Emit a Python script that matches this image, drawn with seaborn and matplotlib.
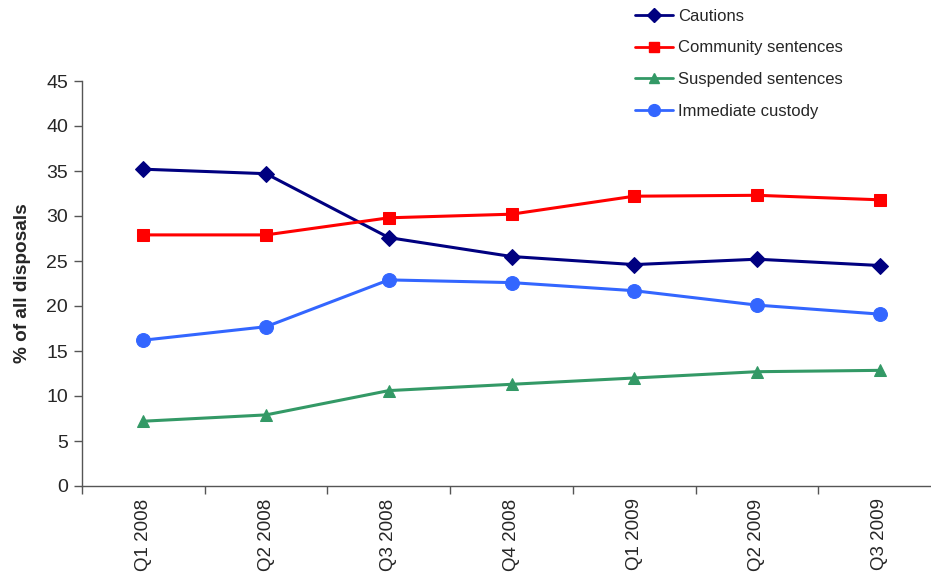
import matplotlib
matplotlib.use("Agg")
import matplotlib.pyplot as plt
import seaborn as sns
import pandas as pd
from matplotlib.lines import Line2D

quarters = ["Q1 2008", "Q2 2008", "Q3 2008", "Q4 2008", "Q1 2009", "Q2 2009", "Q3 2009"]
cautions = [35.2, 34.7, 27.6, 25.5, 24.6, 25.2, 24.5]
community = [27.9, 27.9, 29.8, 30.2, 32.2, 32.3, 31.8]
suspended = [7.2, 7.9, 10.6, 11.3, 12.0, 12.7, 12.85]
custody = [16.2, 17.7, 22.9, 22.6, 21.7, 20.1, 19.1]

series_names = ["Cautions", "Community sentences", "Suspended sentences", "Immediate custody"]
series_values = [cautions, community, suspended, custody]
colors = ["#000080", "#FF0000", "#339966", "#3366FF"]
markers = ["D", "s", "^", "o"]
msizes = [8, 8, 9, 10]

rows = []
for name, vals in zip(series_names, series_values):
    for i, (q, v) in enumerate(zip(quarters, vals)):
        rows.append({"quarter": q, "pos": i, "series": name, "value": v})
df = pd.DataFrame(rows)

sns.set_style("white")
plt.rcParams["font.family"] = ["Liberation Sans", "DejaVu Sans"]

fig = plt.figure(figsize=(9.31, 5.74), dpi=100)
ax = fig.add_axes([82 / 931, 1 - 486 / 574, (941 - 82) / 931, (486 - 81) / 574])

for name, col, mk, ms in zip(series_names, colors, markers, msizes):
    sub = df[df["series"] == name]
    sns.lineplot(data=sub, x="pos", y="value", color=col, marker=mk,
                 markersize=ms, markeredgecolor=col, linewidth=2.2,
                 ax=ax, legend=False)

ax.set_xlim(-0.5, 6.5)
ax.set_ylim(0, 45)
ax.set_yticks(range(0, 46, 5))
ax.set_xticks(range(len(quarters)))
ax.set_xticklabels(quarters, rotation=90, fontsize=13.5)
ax.set_xticks([i + 0.5 for i in range(-1, 7)], minor=True)
ax.tick_params(axis="x", which="major", length=0, pad=9)
ax.tick_params(axis="x", which="minor", length=6, width=1, color="#555555", direction="out", bottom=True)
ax.tick_params(axis="y", length=6, width=1, color="#555555", direction="out", left=True,
               labelsize=14, pad=4)
ax.set_xlabel("")
ax.set_ylabel("% of all disposals", fontsize=13.7, fontweight="bold", labelpad=11)

for side in ["top", "right"]:
    ax.spines[side].set_visible(False)
for side in ["left", "bottom"]:
    ax.spines[side].set_color("#555555")
    ax.spines[side].set_linewidth(1)

handles = [Line2D([0], [0], color=c, marker=m, markersize=s * 0.85, linewidth=2, markeredgecolor=c)
           for c, m, s in zip(colors, markers, msizes)]
fig.legend(handles, series_names, loc="upper left", bbox_to_anchor=(628 / 931, 1 - 2 / 574),
           frameon=False, fontsize=12, handlelength=2.3, handletextpad=0.3,
           labelspacing=1.0, borderaxespad=0.0)

fig.savefig("out.png", dpi=100)
